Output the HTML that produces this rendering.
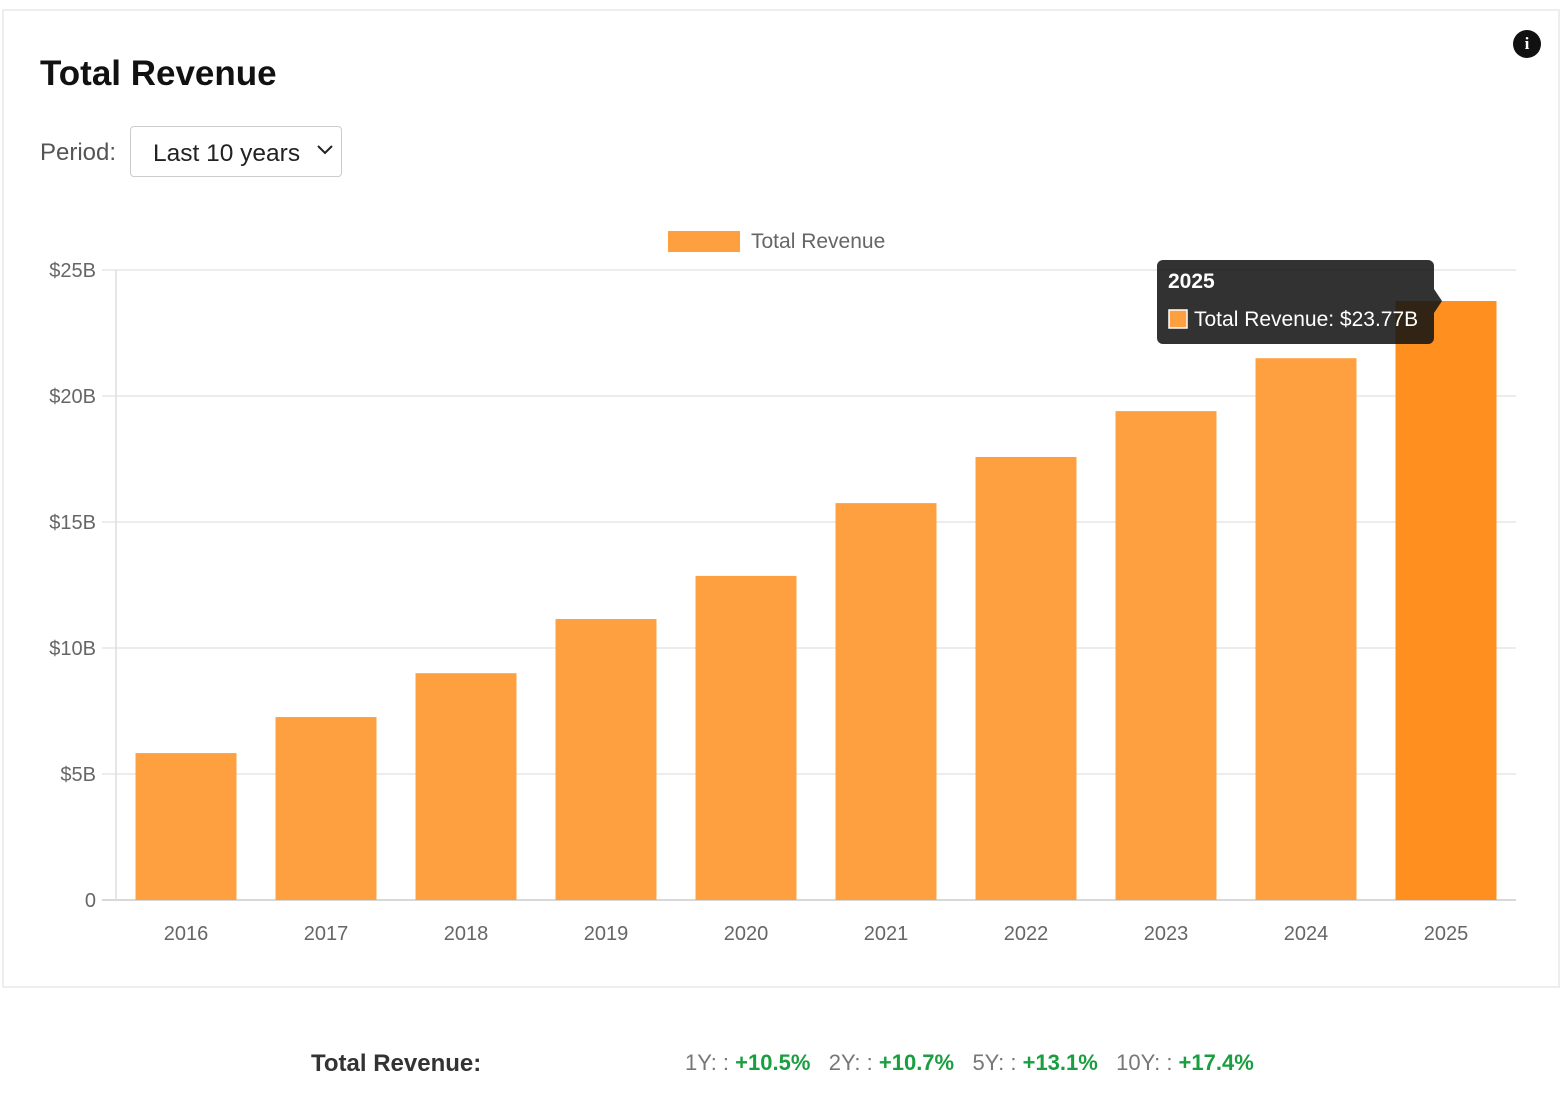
<!DOCTYPE html>
<html><head><meta charset="utf-8"><style>
body{margin:0;width:1563px;height:1101px;background:#fff;font-family:"Liberation Sans",sans-serif;position:relative;overflow:hidden}
.card{position:absolute;left:2px;top:9px;width:1558px;height:979px;border:2px solid #eee;box-sizing:border-box}
h1{position:absolute;left:40px;top:54px;margin:0;font-size:35px;font-weight:bold;color:#111}
.period{position:absolute;left:40px;top:139px;font-size:24px;color:#555}
.sel{position:absolute;left:130px;top:126px;width:212px;height:51px;border:1px solid #ccc;border-radius:4px;font-size:24.5px;color:#222;box-sizing:border-box;padding:13px 0 0 22px}
.info{position:absolute;left:1513px;top:30px;width:28px;height:28px;border-radius:50%;background:#111;color:#fff;font:bold 17px "Liberation Serif",serif;text-align:center;line-height:28px}
.foot{position:absolute;top:1050px;font-size:22px}
</style></head><body>
<div class="card"></div>
<h1>Total Revenue</h1>
<div class="info">i</div>
<div class="period">Period:</div>
<div class="sel">Last 10 years<svg style="position:absolute;right:8px;top:18px" width="16" height="10"><polyline points="1,1 8,8 15,1" fill="none" stroke="#222" stroke-width="2"/></svg></div>
<svg id="chart" width="1563" height="1000" style="position:absolute;left:0;top:0"></svg>
<div class="foot" style="left:311px;font-weight:bold;color:#333;font-size:24px">Total Revenue:</div>
<div class="foot" style="left:685px;color:#777">1Y: : <b style="color:#1a9e3f">+10.5%</b>&nbsp;&nbsp; 2Y: : <b style="color:#1a9e3f">+10.7%</b>&nbsp;&nbsp; 5Y: : <b style="color:#1a9e3f">+13.1%</b>&nbsp;&nbsp; 10Y: : <b style="color:#1a9e3f">+17.4%</b></div>
<script>
const categories=["2016","2017","2018","2019","2020","2021","2022","2023","2024","2025"];
const revenue=[5.83,7.26,9.0,11.15,12.86,15.75,17.58,19.4,21.5,23.77];
const yTicks=[0,5,10,15,20,25];
const yTickLabels=["0","$5B","$10B","$15B","$20B","$25B"];
const svg=document.getElementById('chart');const NS='http://www.w3.org/2000/svg';
const x0=116,x1=1516,y0=900,y1=270,yMax=25;
const y=v=>y0-(v/yMax)*(y0-y1);
const bw=(x1-x0)/categories.length;
const xc=i=>x0+bw*(i+0.5);
function mk(t,a,txt){const e=document.createElementNS(NS,t);for(const k in a)e.setAttribute(k,a[k]);if(txt!=null)e.textContent=txt;svg.appendChild(e);return e;}
yTicks.forEach((t,i)=>{
const g=mk('line',{x1:x0-14,x2:x1,y1:y(t),y2:y(t),stroke:i==0?'#ccc':'#e5e5e5','stroke-width':1.5});


const l=mk('text',{x:96,y:y(t)+7,'text-anchor':'end','font-size':20,fill:'#666'},yTickLabels[i]);


});
const ax=mk('line',{x1:x0,x2:x0,y1:y1,y2:y0,stroke:'#ddd','stroke-width':1.5});


categories.forEach((c,i)=>{
const r=mk('rect',{x:xc(i)-50.5,y:y(revenue[i]),width:101,height:y0-y(revenue[i]),fill:i==9?'#ff9020':'#ffa040'});


const t=mk('text',{x:xc(i),y:940,'text-anchor':'middle','font-size':20,fill:'#666'},c);


});
const lg=mk('rect',{x:668,y:231,width:72,height:21,fill:'#ffa040'});


const lt=mk('text',{x:751,y:248,'font-size':21,fill:'#666'},'Total Revenue');


const ty=y(revenue[9]);
const tb=mk('rect',{x:1157,y:260,width:277,height:84,rx:6,fill:'rgba(20,20,20,0.87)'});


mk('polygon',{points:`1434,${ty-12} 1442,${ty} 1434,${ty+12}`,fill:'rgba(20,20,20,0.87)'});
const t1=mk('text',{x:1168,y:288,'font-size':21,'font-weight':'bold',fill:'#fff'},categories[9]);


mk('rect',{x:1169,y:310,width:18,height:18,fill:'#ffa040',stroke:'#fff','stroke-width':1.5});
const t2=mk('text',{x:1194,y:326,'font-size':21,fill:'#fff'},'Total Revenue: $'+revenue[9].toFixed(2)+'B');


</script>
</body></html>
